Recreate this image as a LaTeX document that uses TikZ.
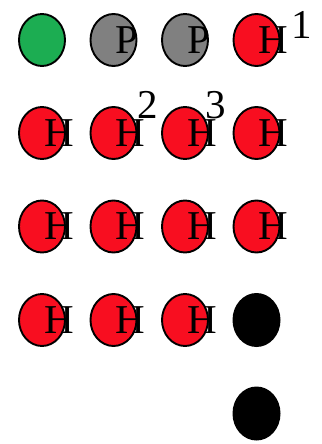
\documentclass[tikz,border=0pt]{standalone}
\usepackage{fontspec}
\setmainfont{Liberation Serif}
\usetikzlibrary{shapes.geometric}
\definecolor{ballred}{RGB}{248,14,32}
\definecolor{ballgreen}{RGB}{28,173,82}
\definecolor{ballgray}{RGB}{128,128,128}
\tikzset{
  ball/.style={ellipse, draw=black, line width=1.9pt, minimum width=46pt, minimum height=52pt, inner sep=0pt},
  hball/.style={ball, fill=ballred},
  pball/.style={ball, fill=ballgray},
  gball/.style={ball, fill=ballgreen},
  kball/.style={ellipse, fill=black, minimum width=48pt, minimum height=54pt, inner sep=0pt},
  letter/.style={anchor=west, inner sep=0pt, font=\fontsize{41}{41}\selectfont},
  numlabel/.style={anchor=base west, inner sep=0pt, font=\fontsize{41}{41}\selectfont}
}
\begin{document}
\begin{tikzpicture}[x=1pt,y=-1pt]
\useasboundingbox (0,0) rectangle (321,444);
% row 1
\node[gball] (b11) at (42,40) {};
\node[pball] (b12) at (113.5,40) {};
\node[pball] (b13) at (185,40) {};
\node[hball] (b14) at (256.5,40) {};
\node[letter] (t12) at (115.3,40) {P};
\node[letter] (t13) at (186.8,40) {P};
\node[letter] (t14) at (258.3,40) {H};
% rows 2 and 3
\foreach \c/\x in {1/42,2/113.5,3/185,4/256.5}{
  \node[hball] (b2\c) at (\x,133) {};
  \node[letter] (t2\c) at (\x+1.8,133) {H};
  \node[hball] (b3\c) at (\x,226.5) {};
  \node[letter] (t3\c) at (\x+1.8,226.5) {H};
}
% row 4
\foreach \c/\x in {1/42,2/113.5,3/185}{
  \node[hball] (b4\c) at (\x,320) {};
  \node[letter] (t4\c) at (\x+1.8,320) {H};
}
\node[kball] (b44) at (256.5,320) {};
\node[kball] (b54) at (256.5,413.5) {};
% numbers
\node[numlabel] (m1) at (291.5,39) {1};
\node[numlabel] (m2) at (136.8,118) {2};
\node[numlabel] (m3) at (205.5,118) {3};
\end{tikzpicture}
\end{document}
